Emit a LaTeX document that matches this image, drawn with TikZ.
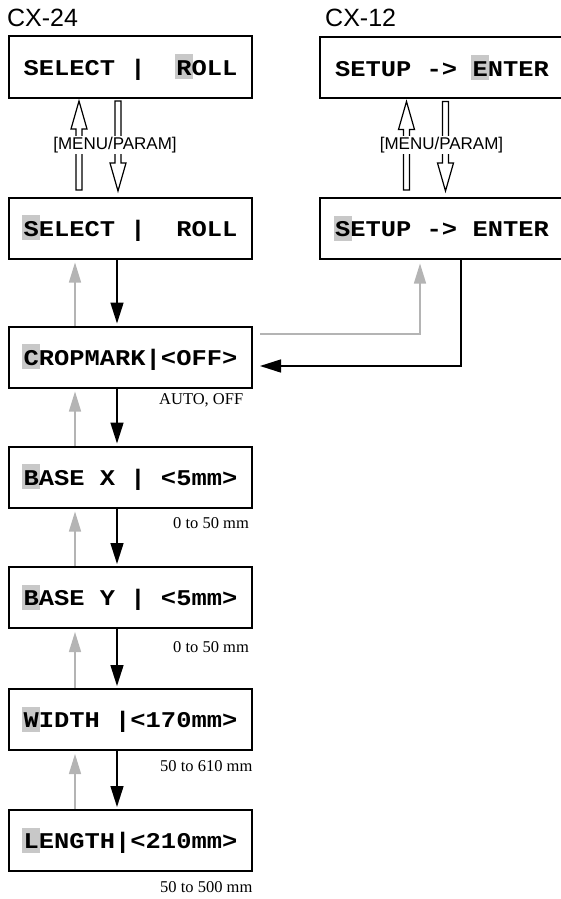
\documentclass[tikz,border=0pt]{standalone}
\usepackage{fontspec}
\setmainfont{Liberation Serif}
\setsansfont{Liberation Sans}
\newfontfamily\lcdfont{Liberation Mono}[FakeStretch=1.13]
\usepackage{tikz}
\usetikzlibrary{arrows.meta, calc, positioning}

\definecolor{hlgray}{HTML}{C8C8C8}
\definecolor{arrowgray}{HTML}{B4B4B4}

% grey cursor behind one character of the display
\newcommand\hl[1]{\kern-1.4pt{\fboxsep=0pt\colorbox{hlgray}{\rule[-4pt]{0pt}{25pt}\kern1.4pt#1\kern1.4pt}}\kern-1.4pt}

% hollow key arrow, vertical, from shaft end #1 to tip #2
\newcommand\keyarrow[2]{%
  \draw[hollow] let \p1=#1, \p2=#2, \n1={sign(\y2-\y1)} in
    (\x2,\y2) -- (\x2+8pt,\y2-\n1*28pt) -- (\x2+3pt,\y2-\n1*28pt) -- (\x1+3pt,\y1)
    -- (\x1-3pt,\y1) -- (\x2-3pt,\y2-\n1*28pt) -- (\x2-8pt,\y2-\n1*28pt) -- cycle;}

\begin{document}
\begin{tikzpicture}[x=1pt, y=-1pt,
    lcd/.style={draw, line width=2pt, minimum width=243pt, minimum height=61pt, inner sep=0pt,
      font=\lcdfont\bfseries\fontsize{22.5}{27}\selectfont},
    model/.style={font=\sffamily\fontsize{25}{30}\selectfont, inner sep=0pt},
    keylbl/.style={font=\sffamily\fontsize{17}{20}\selectfont, fill=white, inner sep=1pt},
    note/.style={font=\fontsize{16.5}{20}\selectfont, inner sep=0pt},
    hollow/.style={draw, line width=1.2pt, fill=white},
    next/.style={line width=1.5pt, -{Triangle[length=21pt,width=13pt]}, shorten >=2pt},
    back/.style={draw=arrowgray, line width=1.5pt, -{Triangle[length=20pt,width=12pt]}, shorten >=3pt}]
\useasboundingbox (0,0) rectangle (561,899);

\node[model, anchor=west] (cx24) at (7,18) {CX-24};
\node[model, anchor=west] (cx12) at (325,18) {CX-12};

% display boxes
\node[lcd] (sel1) at (130.5,67) {SELECT |\ \ \hl{R}OLL};
\node[lcd] (sel2) at (130.5,228) {\hl{S}ELECT |\ \ ROLL};
\node[lcd, minimum width=244pt] (setup1) at (442,67.5) {SETUP -> \hl{E}NTER};
\node[lcd, minimum width=244pt] (setup2) at (442,228) {\hl{S}ETUP -> ENTER};
\node[lcd] (crop) at (130.5,357) {\hl{C}ROPMARK|<OFF>};
\node[lcd] (basex) at (130.5,477) {\hl{B}ASE X | <5mm>};
\node[lcd] (basey) at (130.5,597.5) {\hl{B}ASE Y | <5mm>};
\node[lcd] (width) at (130.5,719.5) {\hl{W}IDTH |<170mm>};
\node[lcd] (length) at (130.5,840.5) {\hl{L}ENGTH|<210mm>};

% value ranges
\node[note, anchor=west] (nCrop) at (159,400.5) {AUTO, OFF};
\node[note, anchor=west] (nX) at (173,523) {0 to 50 mm};
\node[note, anchor=west] (nY) at (173,647) {0 to 50 mm};
\node[note, anchor=west] (nW) at (160,766) {50 to 610 mm};
\node[note, anchor=west] (nL) at (160,887) {50 to 500 mm};

% [MENU/PARAM] keys
\keyarrow{([xshift=-51.5pt,yshift=6.5pt]sel2.north)}{([xshift=-51.5pt,yshift=-2.5pt]sel1.south)}
\keyarrow{([xshift=-12.5pt,yshift=-2.5pt]sel1.south)}{([xshift=-12.5pt,yshift=5.5pt]sel2.north)}
\keyarrow{([xshift=-35.5pt,yshift=6.5pt]setup2.north)}{([xshift=-35.5pt,yshift=-2.5pt]setup1.south)}
\keyarrow{([xshift=3.5pt,yshift=-2.5pt]setup1.south)}{([xshift=3.5pt,yshift=5.5pt]setup2.north)}
\node[keylbl] (keyL) at (115,145) {[MENU/PARAM]};
\node[keylbl] (keyR) at (441.5,145) {[MENU/PARAM]};

% forward
\draw[next] ([xshift=-13.5pt]sel2.south) -- ([xshift=-13.5pt]crop.north);
\draw[next] ([xshift=-13.5pt]crop.south) -- ([xshift=-13.5pt]basex.north);
\draw[next] ([xshift=-13.5pt]basex.south) -- ([xshift=-13.5pt]basey.north);
\draw[next] ([xshift=-13.5pt]basey.south) -- ([xshift=-13.5pt]width.north);
\draw[next] ([xshift=-13.5pt]width.south) -- ([xshift=-13.5pt]length.north);
\draw[next, shorten >=7pt] ([xshift=19pt]setup2.south) |- ([yshift=-9pt]crop.east);

% backward
\draw[back] ([xshift=-55.5pt]crop.north) -- ([xshift=-55.5pt]sel2.south);
\draw[back] ([xshift=-55.5pt]basex.north) -- ([xshift=-55.5pt]crop.south);
\draw[back] ([xshift=-55.5pt]basey.north) -- ([xshift=-55.5pt]basex.south);
\draw[back] ([xshift=-55.5pt]width.north) -- ([xshift=-55.5pt]basey.south);
\draw[back] ([xshift=-55.5pt]length.north) -- ([xshift=-55.5pt]width.south);
\draw[back, shorten >=4pt] ([shift={(7pt,23pt)}]crop.east) -| ([xshift=-22pt]setup2.south);
\end{tikzpicture}
\end{document}
